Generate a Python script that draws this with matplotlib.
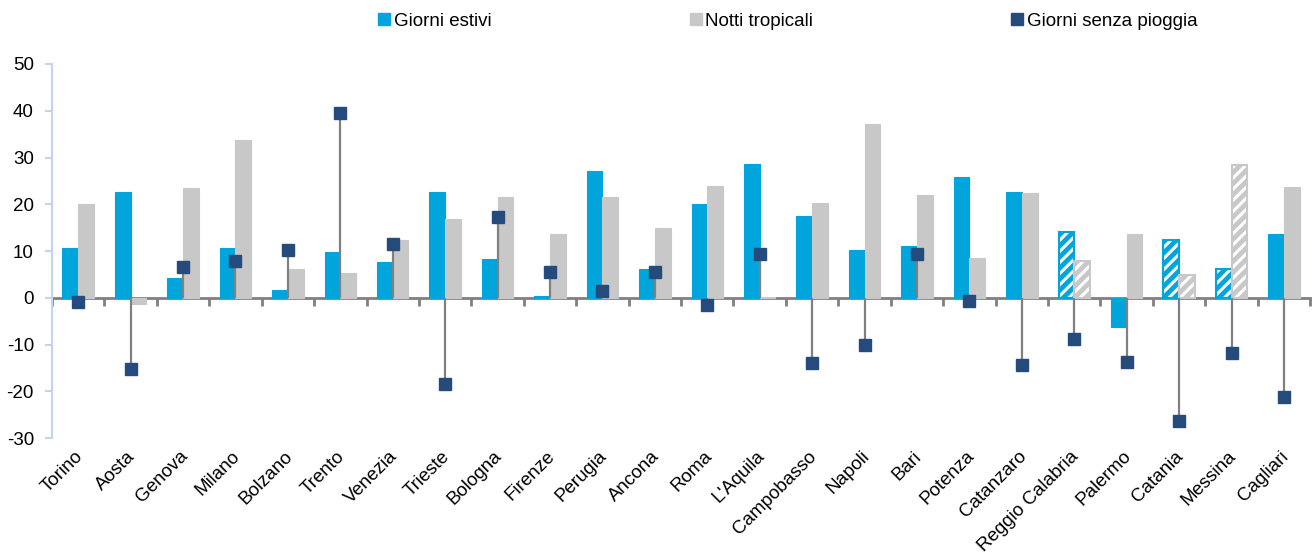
import matplotlib
matplotlib.use("Agg")
import matplotlib.pyplot as plt
import matplotlib.transforms as mtransforms
from matplotlib.lines import Line2D
import numpy as np

plt.rcParams['font.family'] = ['Liberation Sans', 'DejaVu Sans']
plt.rcParams['hatch.linewidth'] = 2.2
plt.rcParams['axes.unicode_minus'] = False

cities = ['Torino', 'Aosta', 'Genova', 'Milano', 'Bolzano', 'Trento', 'Venezia',
          'Trieste', 'Bologna', 'Firenze', 'Perugia', 'Ancona', 'Roma', "L'Aquila",
          'Campobasso', 'Napoli', 'Bari', 'Potenza', 'Catanzaro', 'Reggio Calabria',
          'Palermo', 'Catania', 'Messina', 'Cagliari']
giorni_estivi = [10.7, 22.6, 4.2, 10.6, 1.7, 9.7, 7.6, 22.6, 8.2, 0.3, 27.2, 6.1,
                 20.1, 28.6, 17.4, 10.2, 11.1, 25.8, 22.6, 14.1, -6.3, 12.4, 6.1, 13.6]
notti_tropicali = [20.1, -1.3, 23.4, 33.8, 6.2, 5.4, 12.3, 16.9, 21.6, 13.7, 21.6, 14.9,
                   23.9, 0.1, 20.3, 37.1, 21.9, 8.4, 22.5, 7.9, 13.7, 4.9, 28.3, 23.6]
senza_pioggia = [-0.9, -15.3, 6.6, 7.9, 10.2, 39.6, 11.5, -18.4, 17.3, 5.6, 1.5, 5.6,
                 -1.6, 9.3, -13.9, -10.0, 9.3, -0.6, -14.3, -8.9, -13.7, -26.4, -11.8, -21.2]
# stazioni con dati stimati (barre tratteggiate)
tratteggiate = [c in ('Reggio Calabria', 'Catania', 'Messina') for c in cities]

blue = '#00a5db'
grey = '#c8c8c8'
navy = '#254a7c'
axis_grey = '#808080'

fig = plt.figure(figsize=(13.12, 5.56), dpi=100)
ax = fig.add_axes([0.0396, 0.2122, 0.959, 0.6727])

x = np.arange(len(cities))
w = 0.3

def draw_bars(offset, values, color):
    bars = ax.bar(x + offset, values, w, color=color, edgecolor=color, linewidth=0.8, zorder=2)
    for b, h in zip(bars, tratteggiate):
        if h:
            b.set_hatch('///')
            b.set_edgecolor('white')
            b.set_linewidth(0)
            ax.bar(b.get_x() + w / 2, b.get_height(), w, fill=False,
                   edgecolor=color, linewidth=1.5, zorder=2)

draw_bars(-0.15, giorni_estivi, blue)
draw_bars(0.15, notti_tropicali, grey)

# giorni senza pioggia: stelo dalla linea dello zero
ax.vlines(x, 0, senza_pioggia, color=axis_grey, linewidth=1.6, zorder=3)
ax.plot(x, senza_pioggia, 's', color=navy, markersize=8, linestyle='none', zorder=4)

ax.set_xlim(-0.5, len(cities) - 0.5)
ax.set_ylim(-30, 50)
ax.set_yticks(range(-30, 51, 10))
ax.set_xticks(x)
ax.set_xticklabels(cities, rotation=45, ha='right', rotation_mode='default')
ax.tick_params(axis='x', length=0, labelsize=13.5, pad=7)
ax.tick_params(axis='y', labelsize=13.5, color='#c3d4ec', length=5, width=1.5, pad=8)

# sposta leggermente le etichette a destra
shift = mtransforms.ScaledTranslation(8 / 100, 0, fig.dpi_scale_trans)
for lab in ax.get_xticklabels():
    lab.set_transform(lab.get_transform() + shift)

for s in ('top', 'right', 'bottom'):
    ax.spines[s].set_visible(False)
ax.spines['left'].set_color('#c3d4ec')
ax.spines['left'].set_linewidth(1.5)

# asse x sullo zero
sec = ax.secondary_xaxis(30 / 80)
sec.set_xticks(np.arange(len(cities) + 1) - 0.5)
sec.set_xticklabels([])
sec.tick_params(axis='x', direction='out', length=6, width=2, color=axis_grey)
sec.spines['bottom'].set_color(axis_grey)
sec.spines['bottom'].set_linewidth(2)

handles = [Line2D([], [], marker='s', color=blue, linestyle='none', markersize=8),
           Line2D([], [], marker='s', color=grey, linestyle='none', markersize=8),
           Line2D([], [], marker='s', color=navy, linestyle='none', markersize=8)]
fig.legend(handles, ['Giorni estivi', 'Notti tropicali', 'Giorni senza pioggia'],
           loc='center', bbox_to_anchor=(0.6, 0.962), ncol=3, frameon=False,
           fontsize=13.5, handletextpad=0.1, columnspacing=10.5, handlelength=0.8)

fig.savefig('out.png', dpi=100)
